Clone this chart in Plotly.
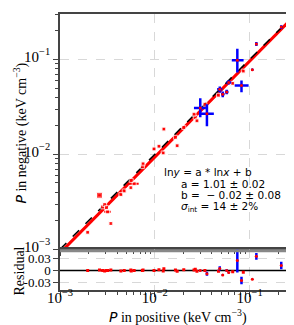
import numpy as np
import plotly.graph_objects as go

# ---------------- data ----------------
# red points (P positive, P negative), small errors
red_x = [0.00196, 0.00261, 0.00282, 0.00296, 0.00318, 0.00344, 0.00310, 0.00439, 0.00476,
         0.00559, 0.00606, 0.00564, 0.00740, 0.00752, 0.00982, 0.01107, 0.01227, 0.01247,
         0.01722, 0.01652, 0.02023, 0.02675, 0.02786, 0.02594, 0.0338, 0.0470, 0.0664, 0.0859]
red_y = [0.00151, 0.00371, 0.00280, 0.00296, 0.00248, 0.00187, 0.00275, 0.00377, 0.00412,
         0.00446, 0.00491, 0.00532, 0.00745, 0.00796, 0.01143, 0.01219, 0.01037, 0.01849,
         0.01236, 0.01514, 0.01926, 0.02455, 0.02262, 0.02654, 0.0338, 0.0420, 0.0561, 0.0755]
red_xerr = [0.00005, 0.00008, 0.00008, 0.00008, 0.00025, 0.00005, 0.00008, 0.00012, 0.0001,
            0.0001, 0.0007, 0.0001, 0.0002, 0.0002, 0.0003, 0.0003, 0.0003, 0.0003,
            0.0004, 0.0004, 0.0005, 0.0006, 0.0006, 0.0006, 0.0008, 0.001, 0.0015, 0.002]
red_res = [0.000, 0.001, 0.000, -0.001, 0.000, 0.001, 0.000, -0.001, 0.000,
           0.001, 0.000, -0.001, 0.000, 0.001, 0.000, 0.002, -0.001, 0.004,
           -0.002, 0.001, 0.002, 0.003, -0.002, 0.001, 0.000, -0.002, -0.003, -0.004]

# blue points with larger errors
blue_x = [0.0743, 0.0822, 0.0302, 0.0355, 0.0485, 0.0521, 0.0574, 0.0603, 0.1070, 0.1180, 0.2160]
blue_y = [0.0980, 0.0534, 0.0309, 0.0269, 0.0485, 0.0430, 0.0455, 0.0574, 0.0780, 0.1460, 0.2200]
blue_xlo = [0.0649, 0.0697, 0.0259, 0.0307, 0.0455, 0.0500, 0.0550, 0.0570, 0.1050, 0.1160, 0.2140]
blue_xhi = [0.0865, 0.0977, 0.0346, 0.0420, 0.0515, 0.0545, 0.0600, 0.0640, 0.1090, 0.1200, 0.2180]
blue_ylo = [0.0731, 0.0451, 0.0247, 0.0198, 0.0450, 0.0400, 0.0430, 0.0545, 0.0760, 0.1390, 0.2100]
blue_yhi = [0.1300, 0.0603, 0.0391, 0.0338, 0.0520, 0.0460, 0.0480, 0.0605, 0.0800, 0.1530, 0.2300]
blue_res = [0.024, -0.024, 0.000, -0.008, 0.005, -0.011, 0.000, -0.005, -0.021, 0.034, 0.012]
blue_reserr = [0.029, 0.009, 0.002, 0.005, 0.005, 0.002, 0.003, 0.002, 0.001, 0.008, 0.009]

fit_a, fit_b = 1.01, -0.02

log_tickvals = [0.001, 0.01, 0.1]
log_ticktext = ["10<sup>−3</sup>", "10<sup>−2</sup>", "10<sup>−1</sup>"]
res_tickvals = [-0.03, 0, 0.03]
res_ticktext = ["-0.03", "0", "0.03"]

# ---------------- layout helpers ----------------
W, H = 294, 325
ML, MR, MT, MB = 52, 4, 4, 43
PW, PH = W - ML - MR, H - MT - MB
split = 41 / PH  # residual panel height fraction

def px(xp):
    return (xp - ML) / PW

def py(yp):
    return (H - MB - yp) / PH

RED = "#ff0000"
BLUE = "#0000ff"
SERIF = "Liberation Serif"
SANS = "DejaVu Sans"

fig = go.Figure()

# fit band and line
xf = np.logspace(-3, -0.45, 120)
yf = np.exp(fit_b) * xf ** fit_a
band = 10 ** 0.02
fig.add_trace(go.Scatter(x=np.concatenate([xf, xf[::-1]]),
                         y=np.concatenate([yf * band, (yf / band)[::-1]]),
                         fill="toself", fillcolor="rgba(255,60,60,0.35)", line=dict(width=0),
                         mode="lines", hoverinfo="skip", showlegend=False, xaxis="x", yaxis="y"))
fig.add_trace(go.Scatter(x=xf, y=yf, mode="lines", line=dict(color=RED, width=3),
                         showlegend=False, xaxis="x", yaxis="y"))
fig.add_trace(go.Scatter(x=[1e-3, 0.4], y=[1e-3, 0.4], mode="lines",
                         line=dict(color="black", width=1.5, dash="dash"),
                         showlegend=False, xaxis="x", yaxis="y"))

# red points
red_size = [4] * len(red_x)
red_size[1] = 6
fig.add_trace(go.Scatter(x=red_x, y=red_y, mode="markers",
                         marker=dict(color=RED, size=red_size, symbol="square"),
                         error_x=dict(type="data", array=red_xerr, color=RED, thickness=2, width=0),
                         showlegend=False, xaxis="x", yaxis="y"))

# blue points
fig.add_trace(go.Scatter(x=blue_x, y=blue_y, mode="markers",
                         marker=dict(color=RED, size=3),
                         error_x=dict(type="data",
                                      array=[h - c for h, c in zip(blue_xhi, blue_x)],
                                      arrayminus=[c - l for l, c in zip(blue_xlo, blue_x)],
                                      color=BLUE, thickness=2.5, width=0),
                         error_y=dict(type="data",
                                      array=[h - c for h, c in zip(blue_yhi, blue_y)],
                                      arrayminus=[c - l for l, c in zip(blue_ylo, blue_y)],
                                      color=BLUE, thickness=2.5, width=0),
                         showlegend=False, xaxis="x", yaxis="y"))

# residual panel
fig.add_trace(go.Scatter(x=[1e-3, 0.4], y=[0, 0], mode="lines",
                         line=dict(color="black", width=1.5),
                         showlegend=False, xaxis="x2", yaxis="y2"))
fig.add_trace(go.Scatter(x=red_x, y=red_res, mode="markers",
                         marker=dict(color=RED, size=3, symbol="square"),
                         showlegend=False, xaxis="x2", yaxis="y2"))
fig.add_trace(go.Scatter(x=blue_x, y=blue_res, mode="markers",
                         marker=dict(color=RED, size=3),
                         error_y=dict(type="data", array=blue_reserr, color=BLUE,
                                      thickness=2.5, width=0),
                         showlegend=False, xaxis="x2", yaxis="y2"))

xrange = [-3, -0.51]
decade_minor = [m * 10.0 ** e for e in (-3, -2, -1) for m in range(2, 10)]
minor = dict(tickvals=decade_minor, ticks="outside", ticklen=3, tickcolor="#444")

axis_common = dict(showline=True, linecolor="#444", linewidth=1.5, mirror=True,
                   gridcolor="#d8d8d8", griddash="dash", gridwidth=1,
                   ticks="outside", ticklen=5, tickcolor="#444",
                   tickfont=dict(family=SERIF, size=15, color="black"), zeroline=False)

fig.update_layout(
    width=W, height=H, margin=dict(l=ML, r=MR, t=MT, b=MB),
    paper_bgcolor="white", plot_bgcolor="white",
    xaxis=dict(domain=[0, 1], anchor="y", type="log", range=xrange,
               tickvals=log_tickvals, showticklabels=False, matches="x2",
               minor=minor, **axis_common),
    yaxis=dict(domain=[split, 1], anchor="x", type="log", range=[-3, -0.52],
               tickvals=log_tickvals, ticktext=log_ticktext, minor=minor,
               ticklabelshift=-3, **axis_common),
    xaxis2=dict(domain=[0, 1], anchor="y2", type="log", range=xrange,
                tickvals=log_tickvals, ticktext=log_ticktext, minor=minor,
                ticklabelstandoff=-12, **axis_common),
    yaxis2=dict(domain=[0, split], anchor="x2", range=[-0.047, 0.051],
                tickvals=res_tickvals, ticktext=res_ticktext,
                **{**axis_common, "tickfont": dict(family=SERIF, size=13, color="black")}),
)

# gray band at top of residual panel
fig.add_shape(type="line", xref="paper", yref="paper", x0=0, x1=1,
              y0=split - 1.5 / PH, y1=split - 1.5 / PH, line=dict(color="#888", width=3))

# axis titles
fig.add_annotation(text="<span style='font-family:DejaVu Sans;font-style:italic'>P</span>"
                        " in negative (keV cm<sup>−3</sup>)",
                   xref="paper", yref="paper", x=px(12), y=py(124), textangle=-90,
                   xanchor="center", yanchor="middle", showarrow=False,
                   font=dict(family=SERIF, size=14, color="black"))
fig.add_annotation(text="Residual", xref="paper", yref="paper", x=px(11), y=py(263),
                   textangle=-90, xanchor="center", yanchor="middle", showarrow=False,
                   font=dict(family=SERIF, size=14, color="black"))
fig.add_annotation(text="<span style='font-family:DejaVu Sans;font-style:italic'>P</span>"
                        " in positive (keV cm<sup>−3</sup>)",
                   xref="paper", yref="paper", x=px(171), y=py(309),
                   xanchor="center", yanchor="middle", showarrow=False,
                   font=dict(family=SERIF, size=14, color="black"))

ann_lines = [
    ("ln<i>y</i> = a * ln<i>x</i> + b", 155, 163),
    ("a = 1.01 ± 0.02", 172, 175),
    ("b =  − 0.02 ± 0.08", 172, 186),
    ("<i>σ</i><sub>int</sub> = 14 ± 2%", 172, 198),
]
for txt, xp, yp in ann_lines:
    fig.add_annotation(text=txt, xref="paper", yref="paper", x=px(xp), y=py(yp),
                       xanchor="left", yanchor="middle", showarrow=False,
                       font=dict(family=SANS, size=10.5, color="black"))

fig.write_html("out.html")
